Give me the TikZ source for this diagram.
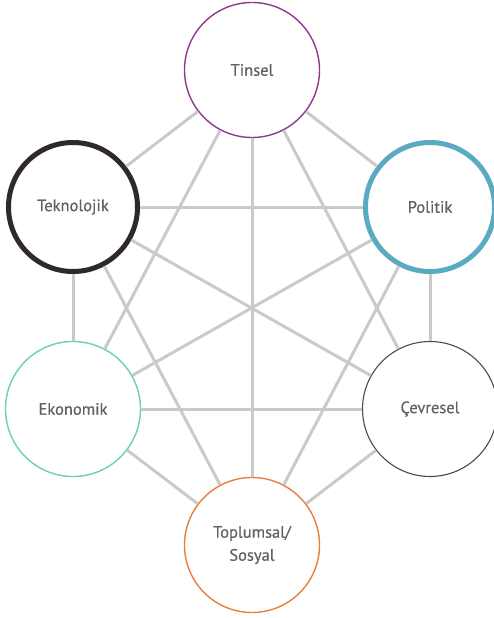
\documentclass[tikz,border=0pt]{standalone}
\usepackage{fontspec}
\setmainfont{PT Sans}
\newfontfamily\labelfont{PT Sans}[FakeBold=0.5]
\definecolor{txtgray}{HTML}{655F65}
\definecolor{linkgray}{HTML}{CACACA}
\definecolor{tinselc}{HTML}{8E3A8F}
\definecolor{teknoc}{HTML}{2F282D}
\definecolor{politikc}{HTML}{5AAAC2}
\definecolor{ekonomikc}{HTML}{6FCDB8}
\definecolor{cevreselc}{HTML}{4B4A50}
\definecolor{toplumc}{HTML}{E8803D}
\begin{document}
\begin{tikzpicture}[x=1pt,y=1pt]
\tikzstyle{every node}+=[circle, fill=white, inner sep=0pt, text=txtgray, font=\labelfont\fontsize{16.5}{23}\selectfont]
\tikzstyle{thin ring}=[minimum size=135pt, line width=1.4pt]
\tikzstyle{thick ring}=[minimum size=129pt, line width=5pt]
\tikzstyle{link}=[draw=linkgray, line width=3pt]
\useasboundingbox (0,0) rectangle (494,-618);
\node [thin ring, draw=tinselc] (tinsel) at (252,-70) {Tinsel};
\node [thick ring, draw=teknoc] (teknolojik) at (73,-207) {Teknolojik};
\node [thick ring, draw=politikc] (politik) at (430,-207) {Politik};
\node [thin ring, draw=ekonomikc] (ekonomik) at (73,-409) {Ekonomik};
\node [thin ring, draw=cevreselc, line width=1.1pt] (cevresel) at (430,-409) {Çevresel};
\node [thin ring, draw=toplumc, align=center] (toplumsal) at (252,-545) {Toplumsal/\\Sosyal};
\draw [link] (tinsel) -- (teknolojik);
\draw [link] (tinsel) -- (politik);
\draw [link] (tinsel) -- (ekonomik);
\draw [link] (tinsel) -- (cevresel);
\draw [link] (tinsel) -- (toplumsal);
\draw [link] (teknolojik) -- (politik);
\draw [link] (teknolojik) -- (ekonomik);
\draw [link] (teknolojik) -- (cevresel);
\draw [link] (teknolojik) -- (toplumsal);
\draw [link] (politik) -- (ekonomik);
\draw [link] (politik) -- (cevresel);
\draw [link] (politik) -- (toplumsal);
\draw [link] (ekonomik) -- (cevresel);
\draw [link] (ekonomik) -- (toplumsal);
\draw [link] (cevresel) -- (toplumsal);
\end{tikzpicture}
\end{document}
